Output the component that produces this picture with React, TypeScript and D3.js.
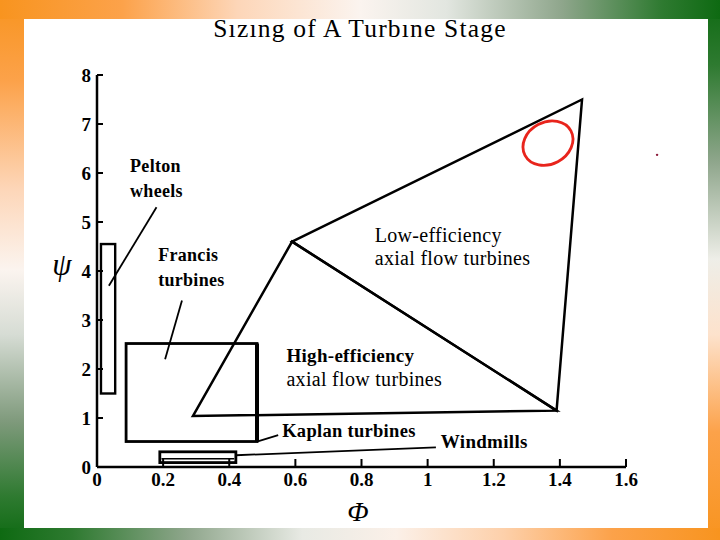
import React from "react";
import * as d3 from "d3";

// ---- data ----
const xTicks = [0, 0.2, 0.4, 0.6, 0.8, 1, 1.2, 1.4, 1.6];
const xTickLabels = ["0", "0.2", "0.4", "0.6", "0.8", "1", "1.2", "1.4", "1.6"];
const yTicks = [0, 1, 2, 3, 4, 5, 6, 7, 8];
const yTickLabels = ["0", "1", "2", "3", "4", "5", "6", "7", "8"];

// regions in (phi, psi)
const peltonBox = [[0.012, 1.5], [0.055, 4.55]];
const francisBox = [[0.088, 0.52], [0.484, 2.52]];
const kaplanBox = [[0.19, 0.09], [0.42, 0.31]];
const kaplanInner = [[0.195, 0.17], [0.415, 0.17]];
const highEff = [[0.29, 1.04], [0.59, 4.6], [1.39, 1.15]];
const lowEff = [[0.59, 4.6], [1.467, 7.5], [1.39, 1.15]];

const leaders = [
  { from: [0.18, 5.3], to: [0.036, 3.7] },   // Pelton
  { from: [0.257, 3.4], to: [0.206, 2.2] },  // Francis
  { from: [0.484, 0.52], to: [0.548, 0.65] }, // Kaplan
  { from: [0.42, 0.24], to: [1.025, 0.4] },  // Windmills
];

const labels = [
  { lines: ["Pelton", "wheels"], at: [0.1, 6.02], bold: [true, true], size: [18, 18], gap: 25 },
  { lines: ["Francis", "turbines"], at: [0.185, 4.2], bold: [true, true], size: [18, 18], gap: 25 },
  { lines: ["Low-efficiency", "axial flow turbines"], at: [0.84, 4.6], bold: [false, false], size: [20, 20], gap: 23.5 },
  { lines: ["High-efficiency", "axial flow turbines"], at: [0.573, 2.14], bold: [true, false], size: [19, 20], gap: 23.5 },
  { lines: ["Kaplan turbines"], at: [0.56, 0.61], bold: [true], size: [18.5], gap: 0 },
  { lines: ["Windmills"], at: [1.04, 0.39], bold: [true], size: [19], gap: 0 },
];

const title = "Sızıng of A Turbıne Stage";
const xTitle = "Φ";
const yTitle = "ψ";

export default function App() {
  const W = 720, H = 540;
  const x = d3.scaleLinear().domain([0, 1.6]).range([97, 626]);
  const y = d3.scaleLinear().domain([0, 8]).range([467, 75]);
  const line = d3.line<number[]>().x((d) => x(d[0])).y((d) => y(d[1]));
  const rect = (b: number[][]) => ({
    x: x(b[0][0]), y: y(b[1][1]), width: x(b[1][0]) - x(b[0][0]), height: y(b[0][1]) - y(b[1][1]),
  });
  const serif = "'Liberation Serif', 'Times New Roman', serif";
  const orange = "#F8941F";
  const green = "#0E6A12";

  return (
    <svg width={W} height={H} style={{ position: "absolute", left: 0, top: 0 }} fontFamily={serif}>
      <defs>
        <linearGradient id="gTop" x1="0" y1="0" x2="1" y2="0">
          <stop offset="0" stopColor={orange} />
          <stop offset="0.17" stopColor="#FCA24A" />
          <stop offset="0.33" stopColor="#FDD6B8" />
          <stop offset="0.5" stopColor="#FBF4EF" />
          <stop offset="0.62" stopColor="#E2E6E0" />
          <stop offset="0.78" stopColor="#8FA68C" />
          <stop offset="0.92" stopColor="#2E7A30" />
          <stop offset="1" stopColor={green} />
        </linearGradient>
        <linearGradient id="gBottom" x1="0" y1="0" x2="1" y2="0">
          <stop offset="0" stopColor={green} />
          <stop offset="0.1" stopColor="#2E7A30" />
          <stop offset="0.26" stopColor="#8FA68C" />
          <stop offset="0.42" stopColor="#E8EAE4" />
          <stop offset="0.55" stopColor="#FBF0E8" />
          <stop offset="0.7" stopColor="#FDD0AA" />
          <stop offset="0.85" stopColor="#FCA24A" />
          <stop offset="1" stopColor={orange} />
        </linearGradient>
        <linearGradient id="gLeft" x1="0" y1="0" x2="0" y2="1">
          <stop offset="0" stopColor={orange} />
          <stop offset="0.15" stopColor="#FCA24A" />
          <stop offset="0.35" stopColor="#FDD6B8" />
          <stop offset="0.5" stopColor="#FBF4EF" />
          <stop offset="0.62" stopColor="#D6DCD4" />
          <stop offset="0.78" stopColor="#7F9A7C" />
          <stop offset="0.92" stopColor="#2E7A30" />
          <stop offset="1" stopColor={green} />
        </linearGradient>
        <linearGradient id="gRight" x1="0" y1="0" x2="0" y2="1">
          <stop offset="0" stopColor={green} />
          <stop offset="0.12" stopColor="#2E7A30" />
          <stop offset="0.3" stopColor="#8FA68C" />
          <stop offset="0.48" stopColor="#EEEEE8" />
          <stop offset="0.62" stopColor="#FDE2CC" />
          <stop offset="0.8" stopColor="#FCA24A" />
          <stop offset="1" stopColor={orange} />
        </linearGradient>
      </defs>
      <rect x={0} y={0} width={W} height={H} fill="#fff" />
      <rect x={0} y={0} width={24} height={H} fill="url(#gLeft)" />
      <rect x={708} y={0} width={12} height={H} fill="url(#gRight)" />
      <rect x={0} y={0} width={W} height={19} fill="url(#gTop)" />
      <rect x={0} y={528} width={W} height={12} fill="url(#gBottom)" />

      <text x={360} y={37} textAnchor="middle" fontSize={25.5} letterSpacing={1.2} fill="#000">{title}</text>

      {/* axes */}
      <line x1={x(0)} x2={x(0)} y1={y(8)} y2={y(0)} stroke="#000" strokeWidth={2.5} />
      <line x1={x(0)} x2={x(1.6)} y1={y(0)} y2={y(0)} stroke="#000" strokeWidth={2.5} />
      {yTicks.map((t, i) => (
        <g key={"y" + i}>
          <line x1={x(0)} x2={x(0) + 6} y1={y(t)} y2={y(t)} stroke="#000" strokeWidth={2} />
          <text x={x(0) - 6} y={y(t) + 6.5} textAnchor="end" fontSize={19} fontWeight="bold">{yTickLabels[i]}</text>
        </g>
      ))}
      {xTicks.map((t, i) => (
        <g key={"x" + i}>
          <line x1={x(t)} x2={x(t)} y1={y(0)} y2={y(0) - 8} stroke="#000" strokeWidth={2} />
          <text x={x(t)} y={y(0) + 19} textAnchor="middle" fontSize={19} fontWeight="bold">{xTickLabels[i]}</text>
        </g>
      ))}
      <text x={62} y={275} textAnchor="middle" fontSize={31} fontStyle="italic">{yTitle}</text>
      <text x={358} y={521} textAnchor="middle" fontSize={28} fontStyle="italic">{xTitle}</text>

      {/* regions */}
      <rect {...rect(peltonBox)} fill="none" stroke="#000" strokeWidth={2.4} />
      <rect {...rect(francisBox)} fill="none" stroke="#000" strokeWidth={2.8} />
      <line x1={x(francisBox[1][0])} x2={x(francisBox[1][0])} y1={y(francisBox[1][1])} y2={y(francisBox[0][1])} stroke="#000" strokeWidth={4} />
      <rect {...rect(kaplanBox)} fill="none" stroke="#000" strokeWidth={2.8} />
      <path d={line(kaplanInner) || ""} stroke="#000" strokeWidth={1.5} fill="none" />
      <path d={(line(highEff) || "") + "Z"} fill="none" stroke="#000" strokeWidth={2.5} strokeLinejoin="miter" />
      <path d={(line(lowEff) || "") + "Z"} fill="none" stroke="#000" strokeWidth={2.5} strokeLinejoin="miter" />
      {leaders.map((l, i) => (
        <path key={"l" + i} d={line([l.from, l.to]) || ""} stroke="#000" strokeWidth={1.8} fill="none" />
      ))}

      {labels.map((lb, i) => (
        <g key={"t" + i}>
          {lb.lines.map((s, j) => (
            <text key={j} x={x(lb.at[0])} y={y(lb.at[1]) + j * lb.gap} fontSize={lb.size[j]}
              fontWeight={lb.bold[j] ? "bold" : "normal"} letterSpacing={0.3}>{s}</text>
          ))}
        </g>
      ))}

      {/* hand-drawn annotation */}
      <ellipse cx={x(1.364)} cy={y(6.61)} rx={26} ry={21} transform={`rotate(-28 ${x(1.364)} ${y(6.61)})`}
        fill="none" stroke="#E8241C" strokeWidth={2.8} />
      <circle cx={x(1.694)} cy={y(6.37)} r={1.2} fill="#8B1A3A" />
    </svg>
  );
}
